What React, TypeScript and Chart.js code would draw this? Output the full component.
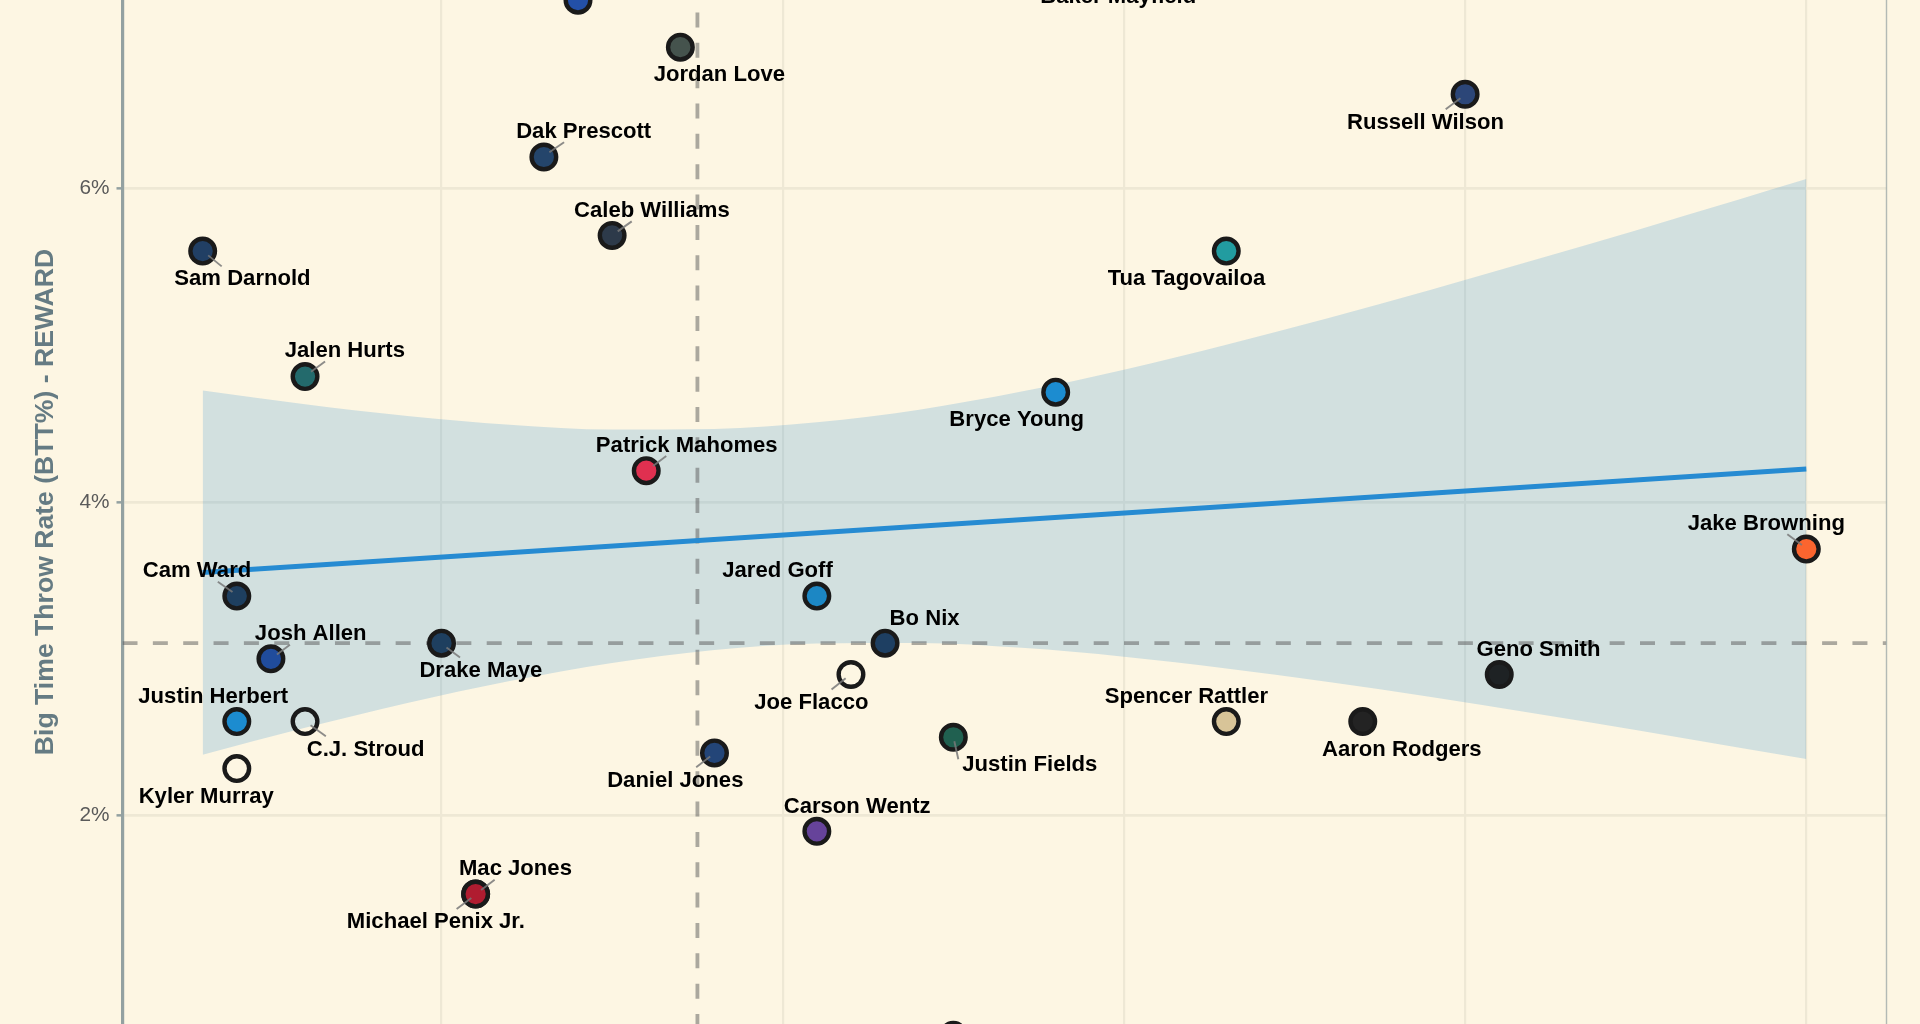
import React, { useEffect, useRef } from "react";
import { Chart, registerables } from "chart.js";

Chart.register(...registerables);

// ---- data ----
const players = [
  "Baker Mayfield", "", "Jordan Love", "Russell Wilson", "Dak Prescott", "Caleb Williams", "Sam Darnold",
  "Tua Tagovailoa", "Jalen Hurts", "Bryce Young", "Patrick Mahomes", "Jake Browning", "Cam Ward",
  "Jared Goff", "Josh Allen", "Drake Maye", "Bo Nix", "Joe Flacco", "Geno Smith", "Justin Herbert",
  "C.J. Stroud", "Spencer Rattler", "Aaron Rodgers", "Justin Fields", "Daniel Jones", "Kyler Murray",
  "Carson Wentz", "Mac Jones", "Michael Penix Jr.", "",
];
const twpRate = [
  4.1, 2.4, 2.7, 5.0, 2.3, 2.5, 1.3,
  4.3, 1.6, 3.8, 2.6, 6.0, 1.4,
  3.1, 1.5, 2.0, 3.3, 3.2, 5.1, 1.4,
  1.6, 4.3, 4.7, 3.5, 2.8, 1.4,
  3.1, 2.1, 2.1, 3.5,
];
const bttRate = [
  7.4, 7.2, 6.9, 6.6, 6.2, 5.7, 5.6,
  5.6, 4.8, 4.7, 4.2, 3.7, 3.4,
  3.4, 3.0, 3.1, 3.1, 2.9, 2.9, 2.6,
  2.6, 2.6, 2.6, 2.5, 2.4, 2.3,
  1.9, 1.5, 1.5, 0.6,
];
const teamColors = [
  "#c8202f", "#2350a8", "#45534d", "#2c4678", "#24456b", "#2d3a4a", "#213f64",
  "#229ca0", "#236a6c", "#1c8cd0", "#e03050", "#fb652f", "#1e3f5f",
  "#1c87c4", "#204c9c", "#1e3f5f", "#1e3f62", "transparent", "#1e2224", "#1c8cd0",
  "transparent", "#d8c498", "#232323", "#206050", "#234578", "transparent",
  "#66439a", "#aa1a2c", "#b01c30", "#1f2f3f",
];
const fitX = [1.3, 6.0];
const fitY = [3.55, 4.21];
const bandX = [1.3, 1.6, 1.9, 2.2, 2.5, 2.8, 3.1, 3.4, 3.7, 4.0, 4.3, 4.6, 4.9, 5.2, 5.5, 5.8, 6.0];
const bandUpper = [4.711, 4.624, 4.549, 4.493, 4.462, 4.466, 4.508, 4.589, 4.704, 4.844, 5.003, 5.174, 5.354, 5.541, 5.732, 5.927, 6.059];
const bandLower = [2.389, 2.56, 2.719, 2.859, 2.974, 3.056, 3.098, 3.101, 3.07, 3.014, 2.939, 2.852, 2.756, 2.653, 2.546, 2.435, 2.361];
const meanTwp = 2.75;
const meanBtt = 3.1;

// ---- label placement (pixel offsets from each point) ----
const labelOffsets: Record<string, number[]> = {
  "Baker Mayfield": [-39.8, 27],
  "Jordan Love": [39, 27],
  "Russell Wilson": [-39.6, 27.3, -4.7, 4, -19.4, 15],
  "Dak Prescott": [39.8, -26.4, 5.5, -4.7, 20.2, -14.7],
  "Caleb Williams": [39.8, -25.3, 5.6, -4, 19.6, -14],
  "Sam Darnold": [39.8, 27, 5.5, 4.3, 19, 15.3],
  "Tua Tagovailoa": [-39.8, 27],
  "Jalen Hurts": [39.8, -26.4, 6, -4.7, 20, -15],
  "Bryce Young": [-39, 26.6],
  "Patrick Mahomes": [40.5, -26, 6.8, -4.7, 20, -14.7],
  "Jake Browning": [-40, -25.7, -4.4, -4, -19, -14.7],
  "Cam Ward": [-39.8, -26, -4.3, -4, -19, -14.3],
  "Jared Goff": [-39.3, -26],
  "Josh Allen": [39.8, -25.7, 6, -4.3, 19, -14],
  "Drake Maye": [39.3, 27, 5, 4.3, 18.5, 14.3],
  "Bo Nix": [39.5, -25.7],
  "Joe Flacco": [-39.6, 27.3, -5.3, 3.7, -19.4, 15],
  "Geno Smith": [39.2, -25.3],
  "Justin Herbert": [-23.6, -25.7],
  "C.J. Stroud": [60.6, 27, 5.5, 3.7, 20.8, 14.7],
  "Spencer Rattler": [-39.8, -25.3],
  "Aaron Rodgers": [39, 27.7],
  "Justin Fields": [76.5, 26.7, 1, 4, 5, 22],
  "Daniel Jones": [-39.2, 27, -4.3, 3.6, -18.3, 14.3],
  "Kyler Murray": [-30.6, 27.4],
  "Carson Wentz": [40.3, -25.3],
  "Mac Jones": [39.8, -25.7, 5.5, -4, 19, -14.3],
  "Michael Penix Jr.": [-39.8, 27.3, -4.3, 4, -19, 15],
};

const FONT = "'Liberation Sans', Arial, sans-serif";
const POINTS_INDEX = 5;

const labelPlugin = {
  id: "playerLabels",
  afterDatasetsDraw(chart: any) {
    const { ctx, chartArea } = chart;
    ctx.save();
    // thin panel edge on the right
    ctx.strokeStyle = "rgba(147,161,161,0.7)";
    ctx.lineWidth = 1.4;
    ctx.beginPath();
    ctx.moveTo(chartArea.right, chartArea.top);
    ctx.lineTo(chartArea.right, chartArea.bottom);
    ctx.stroke();

    const meta = chart.getDatasetMeta(POINTS_INDEX);
    ctx.lineCap = "butt";
    players.forEach((name, i) => {
      const off = labelOffsets[name];
      if (!off || off.length < 6) return;
      const el = meta.data[i];
      ctx.strokeStyle = "rgba(120,120,120,0.85)";
      ctx.lineWidth = 1.9;
      ctx.beginPath();
      ctx.moveTo(el.x + off[2], el.y + off[3]);
      ctx.lineTo(el.x + off[4], el.y + off[5]);
      ctx.stroke();
    });
    ctx.fillStyle = "#000000";
    ctx.font = `bold 22.1px ${FONT}`;
    ctx.textAlign = "center";
    ctx.textBaseline = "middle";
    players.forEach((name, i) => {
      const off = labelOffsets[name];
      if (!off) return;
      const el = meta.data[i];
      ctx.fillText(name, el.x + off[0], el.y + off[1] + 1);
    });
    ctx.restore();
  },
};

export default function App() {
  const ref = useRef<HTMLCanvasElement>(null);

  useEffect(() => {
    document.body.style.margin = "0";
    document.body.style.background = "#FDF6E3";
    document.body.style.overflow = "hidden";
    const chart = new Chart(ref.current as HTMLCanvasElement, {
      type: "line",
      plugins: [labelPlugin],
      data: {
        datasets: [
          {
            label: "band upper",
            data: bandX.map((x, i) => ({ x, y: bandUpper[i] })),
            borderWidth: 0,
            pointRadius: 0,
            cubicInterpolationMode: "monotone",
            backgroundColor: "rgba(38,139,210,0.2)",
            fill: "+1",
            order: 6,
          },
          {
            label: "band lower",
            data: bandX.map((x, i) => ({ x, y: bandLower[i] })),
            borderWidth: 0,
            pointRadius: 0,
            cubicInterpolationMode: "monotone",
            fill: false,
            order: 6,
          },
          {
            label: "mean BTT",
            data: [{ x: 1.065, y: meanBtt }, { x: 6.235, y: meanBtt }],
            borderColor: "rgba(90,90,90,0.5)",
            borderWidth: 3.8,
            borderDash: [15, 15.35],
            pointRadius: 0,
            fill: false,
            order: 5,
          },
          {
            label: "mean TWP",
            data: [{ x: meanTwp, y: 8 }, { x: meanTwp, y: 0 }],
            borderColor: "rgba(90,90,90,0.5)",
            borderWidth: 3.8,
            borderDash: [15, 15.35],
            borderDashOffset: 14,
            pointRadius: 0,
            fill: false,
            order: 5,
          },
          {
            label: "fit",
            data: fitX.map((x, i) => ({ x, y: fitY[i] })),
            borderColor: "#268BD2",
            borderWidth: 5,
            pointRadius: 0,
            fill: false,
            order: 4,
          },
          {
            type: "scatter",
            label: "quarterbacks",
            data: players.map((_, i) => ({ x: twpRate[i], y: bttRate[i] })),
            backgroundColor: teamColors,
            pointBackgroundColor: teamColors,
            pointBorderColor: "#1a1a1a",
            pointBorderWidth: 4.4,
            pointRadius: 12.3,
            showLine: false,
            order: 1,
          },
        ] as any,
      },
      options: {
        responsive: false,
        animation: false,
        devicePixelRatio: 1,
        layout: { padding: { top: 2.4, bottom: 2.4, right: 33.5, left: 0 } },
        plugins: { legend: { display: false }, tooltip: { enabled: false }, title: { display: false } },
        scales: {
          x: {
            type: "linear",
            min: 1.065,
            max: 6.235,
            afterFit(s: any) { s.height = 0; s.paddingLeft = 0; s.paddingRight = 0; },
            ticks: { display: false, stepSize: 1, includeBounds: false },
            grid: { color: "#EEE8D5", lineWidth: 2.2, drawTicks: false },
            border: { display: false },
          },
          y: {
            type: "linear",
            min: 0,
            max: 8,
            afterFit(s: any) { s.width = 122.5; s.paddingTop = 0; s.paddingBottom = 0; },
            ticks: {
              stepSize: 2,
              color: "#5a5a5a",
              padding: 7,
              font: { family: FONT, size: 20.8 },
              callback: (v: any) => `${v}%`,
            },
            grid: { color: "#EEE8D5", lineWidth: 2.7, tickColor: "#93A1A1", tickLength: 6, tickWidth: 2.5 },
            border: { color: "#93A1A1", width: 3.2 },
            title: {
              display: true,
              text: "Big Time Throw Rate (BTT%) - REWARD",
              color: "#657B83",
              font: { family: FONT, size: 26.6, weight: "bold" },
              padding: { top: 30, bottom: 0 },
            },
          },
        },
      } as any,
    });
    return () => chart.destroy();
  }, []);

  return (
    <div style={{ position: "fixed", left: 0, top: 0, width: 1920, height: 1024, overflow: "hidden", background: "#FDF6E3" }}>
      <canvas ref={ref} width={1920} height={1288} style={{ position: "absolute", left: 0, top: -142.3, width: 1920, height: 1288 }} />
    </div>
  );
}
